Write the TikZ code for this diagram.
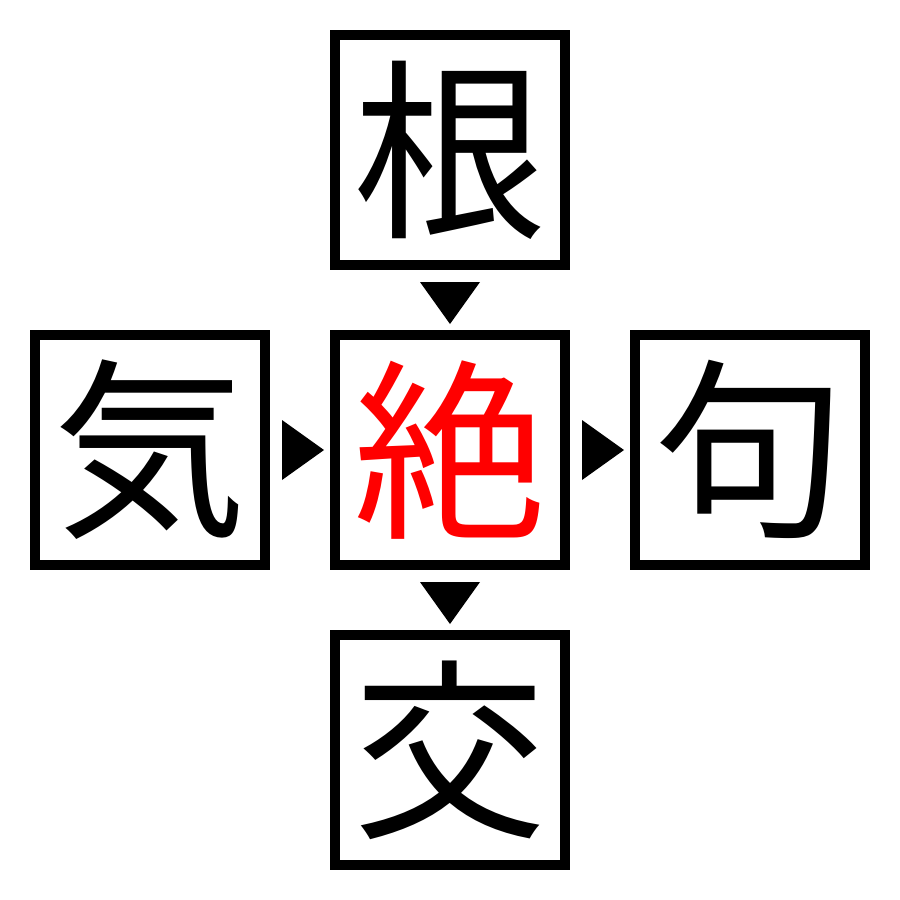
\documentclass[tikz,border=0pt]{standalone}
\usepackage{fontspec}
\newfontfamily\cjk{Noto Sans CJK JP}
\usetikzlibrary{calc}
\tikzset{
  kbox/.style={draw=black, line width=0.2cm, minimum size=4.6cm, inner sep=0pt, outer sep=0.1cm,
    font=\cjk\fontsize{110pt}{110pt}\selectfont},
  tri/.style={fill=black}
}
\begin{document}
\begin{tikzpicture}
\useasboundingbox (0,0) rectangle (18,-18);
\node[kbox] (c) at (9,-9) {\textcolor{red}{絶}};
\node[kbox] (t) at (9,-3) {根};
\node[kbox] (l) at (3,-9) {気};
\node[kbox] (r) at (15,-9) {句};
\node[kbox] (b) at (9,-15) {交};
% down triangles
\coordinate (m1) at ($(t.south)!0.5!(c.north)+(0,-0.06)$);
\fill[tri] ($(m1)+(-0.6,0.42)$) -- ($(m1)+(0.6,0.42)$) -- ($(m1)+(0,-0.42)$) -- cycle;
\coordinate (m2) at ($(c.south)!0.5!(b.north)+(0,-0.06)$);
\fill[tri] ($(m2)+(-0.6,0.42)$) -- ($(m2)+(0.6,0.42)$) -- ($(m2)+(0,-0.42)$) -- cycle;
% right triangles
\coordinate (m3) at ($(l.east)!0.5!(c.west)+(0.06,0)$);
\fill[tri] ($(m3)+(-0.42,0.6)$) -- ($(m3)+(-0.42,-0.6)$) -- ($(m3)+(0.42,0)$) -- cycle;
\coordinate (m4) at ($(c.east)!0.5!(r.west)+(0.06,0)$);
\fill[tri] ($(m4)+(-0.42,0.6)$) -- ($(m4)+(-0.42,-0.6)$) -- ($(m4)+(0.42,0)$) -- cycle;
\end{tikzpicture}
\end{document}
